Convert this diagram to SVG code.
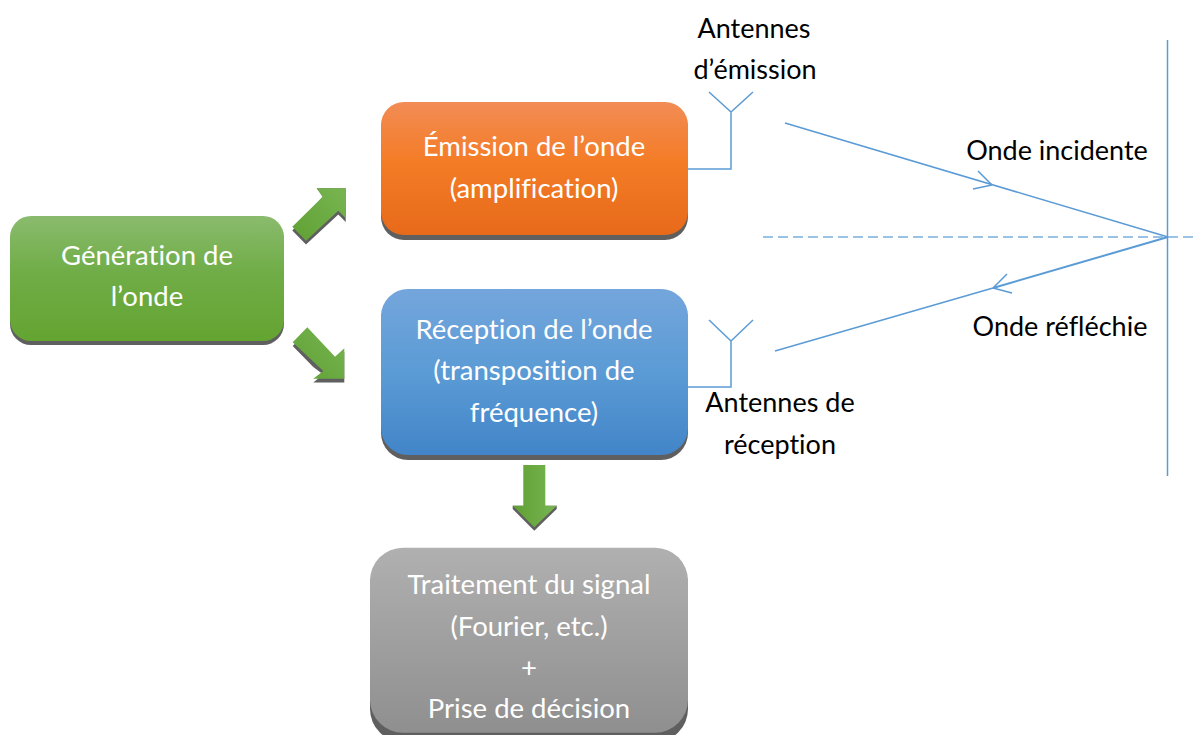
<svg xmlns="http://www.w3.org/2000/svg" width="1193" height="735" viewBox="0 0 1193 735">
<defs>
<linearGradient id="gG" x1="0" y1="0" x2="0" y2="1"><stop offset="0" stop-color="#8abb6d"/><stop offset="0.45" stop-color="#70ad47"/><stop offset="1" stop-color="#64a431"/></linearGradient>
<linearGradient id="gO" x1="0" y1="0" x2="0" y2="1"><stop offset="0" stop-color="#f28c55"/><stop offset="0.45" stop-color="#f47c26"/><stop offset="1" stop-color="#e76a1a"/></linearGradient>
<linearGradient id="gB" x1="0" y1="0" x2="0" y2="1"><stop offset="0" stop-color="#74a6dc"/><stop offset="0.5" stop-color="#5b9bd5"/><stop offset="1" stop-color="#4285c8"/></linearGradient>
<linearGradient id="gY" x1="0" y1="0" x2="0" y2="1"><stop offset="0" stop-color="#b0b0b0"/><stop offset="1" stop-color="#8f8f8f"/></linearGradient>
<linearGradient id="gA" x1="0" y1="1" x2="1" y2="0"><stop offset="0" stop-color="#5fa033"/><stop offset="1" stop-color="#78b552"/></linearGradient>
<linearGradient id="gA2" x1="0" y1="0" x2="1" y2="0"><stop offset="0" stop-color="#5fa033"/><stop offset="1" stop-color="#78b552"/></linearGradient>
</defs>
<style>
text{font-family:"Lato","Carlito","Open Sans",sans-serif;font-size:27px;text-anchor:middle;font-variant-ligatures:none}
.w{fill:#fff;font-size:27.5px}.b{fill:#000}
.s{fill:#5f5f5f}
.l{fill:none;stroke:#5b9bd5;stroke-width:1.5}
</style>
<g id="connectors">
<g id="arrow-up-right"><path class="s" d="M292.3 230.5L306 244.5L338.3 214.5L345.7 222V188.3H316.7L322.7 196.7Z"/><path fill="url(#gA)" d="M292.3 226.7L306 240.7L338.3 210.7L345.7 218.3V188.3H316.7L322.7 196.7Z"/></g>
<g id="arrow-down-right"><path class="s" d="M292.7 346L313.3 367L323.3 374.5L313.3 382.5H344.3V352L335 360L307.3 331Z"/><path fill="url(#gA)" d="M307.3 327.3L292.7 342.3L323.3 371L313.3 378.7H344.3V348.3L335 356.7Z"/></g>
<g id="arrow-down"><path class="s" d="M512.7 509L534.3 530.7L556.7 509V505.7H512.7Z"/><path fill="url(#gA2)" d="M523.3 465H545.3V505.7H556.7L534.3 527.3L512.7 505.7H523.3Z"/></g>
<path class="l" d="M688 169H731V112M709 92L731 112L753 92"/>
<path class="l" d="M688 387H731V341M709 320L731 341L753 320"/>
<path class="l" d="M785 123L1168 237"/>
<path class="l" d="M992 185L978 171M992 185L973 189"/>
<path class="l" style="stroke-width:2" d="M1168 237L993 288"/>
<path class="l" d="M775 351L993 288M993 288L1007 274M993 288L1012 293"/>
<path class="l" d="M1167.5 40V476"/>
<path class="l" style="stroke:#7aaee0" stroke-dasharray="10 5" d="M763 237H1193"/>
</g>
<g id="node-generation"><rect class="s" x="10" y="220" width="274" height="125" rx="21"/><rect x="10" y="216" width="274" height="125" rx="21" fill="url(#gG)"/><text class="w" x="147" y="265">Génération de</text><text class="w" x="147" y="306">l’onde</text></g>
<g id="node-emission"><rect class="s" x="381" y="106" width="307" height="134" rx="23"/><rect x="381" y="102" width="307" height="133" rx="23" fill="url(#gO)"/><text class="w" x="534" y="156">Émission de l’onde</text><text class="w" x="534" y="198">(amplification)</text></g>
<g id="node-reception"><rect class="s" x="381" y="293" width="307" height="167" rx="27"/><rect x="381" y="289" width="307" height="166" rx="27" fill="url(#gB)"/><text class="w" x="534" y="339">Réception de l’onde</text><text class="w" x="534" y="380">(transposition de</text><text class="w" x="534" y="422">fréquence)</text></g>
<g id="node-traitement"><rect class="s" x="370" y="552" width="318" height="190" rx="33"/><rect x="370" y="547.7" width="318" height="185" rx="33" fill="url(#gY)"/><text class="w" x="529" y="594">Traitement du signal</text><text class="w" x="529" y="636">(Fourier, etc.)</text><text class="w" x="529" y="677">+</text><text class="w" x="529" y="718">Prise de décision</text></g>
<g id="labels">
<text class="b" x="754" y="38">Antennes</text><text class="b" x="755" y="79">d’émission</text>
<text class="b" x="1057" y="160">Onde incidente</text>
<text class="b" x="1060" y="336">Onde réfléchie</text>
<text class="b" x="780" y="412">Antennes de</text><text class="b" x="780" y="454">réception</text>
</g>
</svg>
